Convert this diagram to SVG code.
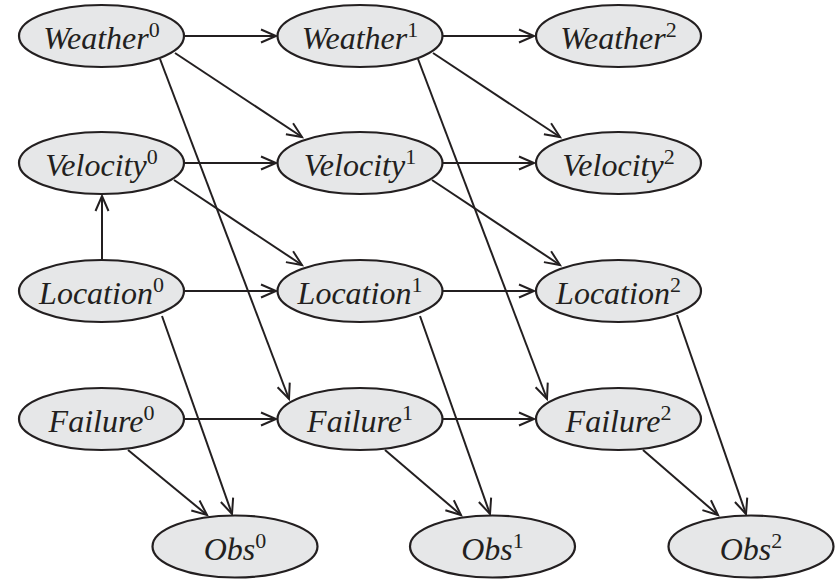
<svg xmlns="http://www.w3.org/2000/svg" width="839" height="579" viewBox="0 0 839 579">
  <style>
    .node ellipse { fill: #e6e7e8; stroke: #231f20; stroke-width: 2.2; }
    text.lbl { font-family: 'Liberation Serif', 'Times New Roman', serif; font-style: italic; font-size: 32px; fill: #231f20; text-anchor: middle; }
    tspan.sup { font-style: normal; font-size: 22px; }
    #edges line { stroke: #231f20; stroke-width: 2; fill: none; marker-end: url(#arr); }
  </style>
  <defs>
    <marker id="arr" viewBox="-18 -10 22 20" refX="0" refY="0" markerWidth="22" markerHeight="20" markerUnits="userSpaceOnUse" orient="auto">
      <path d="M -15 -6.5 L 0 0 L -15 6.5" fill="none" stroke="#231f20" stroke-width="2" stroke-linejoin="miter"/>
    </marker>
  </defs>

  <!-- connectors -->
  <g id="edges">
    <!-- Weather row -->
    <line x1="184" y1="36" x2="276" y2="36"/>
    <line x1="443" y1="36" x2="534" y2="36"/>
    <line x1="175" y1="53" x2="302" y2="137"/>
    <line x1="433" y1="53" x2="560" y2="137"/>
    <line x1="160" y1="59" x2="289" y2="399"/>
    <line x1="418" y1="59" x2="547" y2="399"/>
    <!-- Velocity row -->
    <line x1="184" y1="163" x2="276" y2="163"/>
    <line x1="443" y1="163" x2="534" y2="163"/>
    <line x1="174" y1="180" x2="302" y2="265"/>
    <line x1="432" y1="180" x2="560" y2="265"/>
    <!-- Location row -->
    <line x1="102" y1="260" x2="102" y2="196"/>
    <line x1="184" y1="291" x2="276" y2="291"/>
    <line x1="443" y1="291" x2="534" y2="291"/>
    <line x1="162" y1="316" x2="232" y2="514"/>
    <line x1="420" y1="316" x2="490" y2="514"/>
    <line x1="677" y1="315" x2="746" y2="514"/>
    <!-- Failure row -->
    <line x1="184" y1="419" x2="276" y2="419"/>
    <line x1="443" y1="419" x2="534" y2="419"/>
    <line x1="128" y1="450" x2="207" y2="515"/>
    <line x1="385" y1="450" x2="461" y2="515"/>
    <line x1="643" y1="450" x2="718" y2="515"/>
  </g>

  <!-- nodes -->
  <g id="weather0" class="node"><ellipse cx="101.5" cy="36" rx="82.5" ry="31"/><text class="lbl" x="101.5" y="49">Weather<tspan class="sup" dy="-12">0</tspan></text></g>
  <g id="weather1" class="node"><ellipse cx="360" cy="36" rx="82.5" ry="31"/><text class="lbl" x="360" y="49">Weather<tspan class="sup" dy="-12">1</tspan></text></g>
  <g id="weather2" class="node"><ellipse cx="618.5" cy="36" rx="82.5" ry="31"/><text class="lbl" x="618.5" y="49">Weather<tspan class="sup" dy="-12">2</tspan></text></g>

  <g id="velocity0" class="node"><ellipse cx="101.5" cy="163" rx="82.5" ry="31"/><text class="lbl" x="101.5" y="176">Velocity<tspan class="sup" dy="-12">0</tspan></text></g>
  <g id="velocity1" class="node"><ellipse cx="360" cy="163" rx="82.5" ry="31"/><text class="lbl" x="360" y="176">Velocity<tspan class="sup" dy="-12">1</tspan></text></g>
  <g id="velocity2" class="node"><ellipse cx="618.5" cy="163" rx="82.5" ry="31"/><text class="lbl" x="618.5" y="176">Velocity<tspan class="sup" dy="-12">2</tspan></text></g>

  <g id="location0" class="node"><ellipse cx="101.5" cy="291" rx="82.5" ry="31"/><text class="lbl" x="101.5" y="304">Location<tspan class="sup" dy="-12">0</tspan></text></g>
  <g id="location1" class="node"><ellipse cx="360" cy="291" rx="82.5" ry="31"/><text class="lbl" x="360" y="304">Location<tspan class="sup" dy="-12">1</tspan></text></g>
  <g id="location2" class="node"><ellipse cx="618.5" cy="291" rx="82.5" ry="31"/><text class="lbl" x="618.5" y="304">Location<tspan class="sup" dy="-12">2</tspan></text></g>

  <g id="failure0" class="node"><ellipse cx="101.5" cy="419" rx="82.5" ry="31"/><text class="lbl" x="101.5" y="432">Failure<tspan class="sup" dy="-12">0</tspan></text></g>
  <g id="failure1" class="node"><ellipse cx="360" cy="419" rx="82.5" ry="31"/><text class="lbl" x="360" y="432">Failure<tspan class="sup" dy="-12">1</tspan></text></g>
  <g id="failure2" class="node"><ellipse cx="618.5" cy="419" rx="82.5" ry="31"/><text class="lbl" x="618.5" y="432">Failure<tspan class="sup" dy="-12">2</tspan></text></g>

  <g id="obs0" class="node"><ellipse cx="235" cy="546.5" rx="82.5" ry="31"/><text class="lbl" x="235" y="559.5">Obs<tspan class="sup" dy="-12">0</tspan></text></g>
  <g id="obs1" class="node"><ellipse cx="492.5" cy="546.5" rx="82.5" ry="31"/><text class="lbl" x="492.5" y="559.5">Obs<tspan class="sup" dy="-12">1</tspan></text></g>
  <g id="obs2" class="node"><ellipse cx="751" cy="546.5" rx="82.5" ry="31"/><text class="lbl" x="751" y="559.5">Obs<tspan class="sup" dy="-12">2</tspan></text></g>
</svg>
